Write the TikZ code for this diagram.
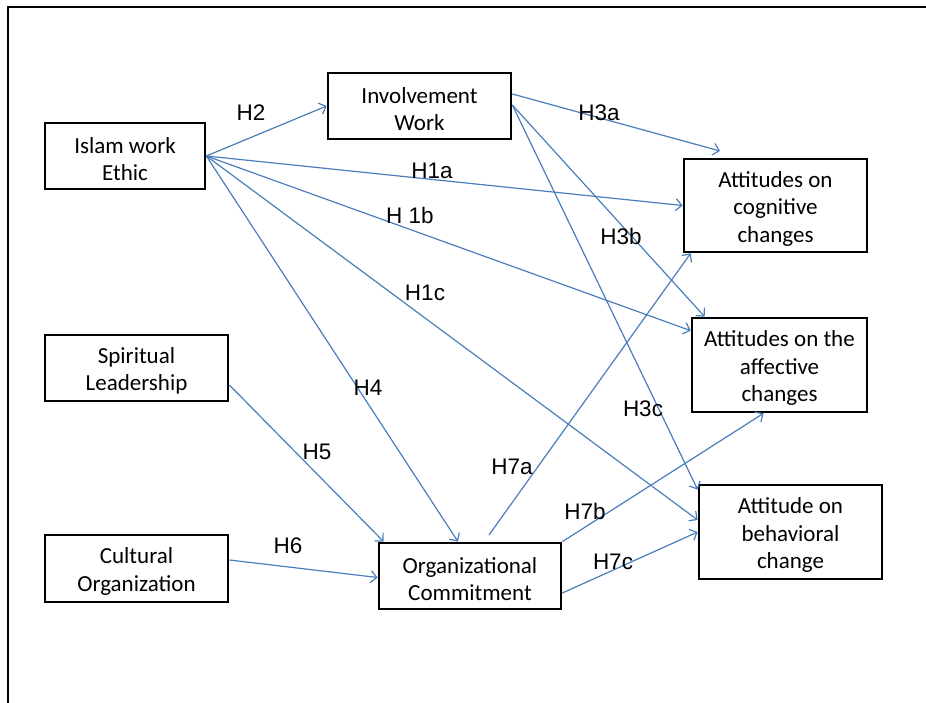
\documentclass[tikz,border=0pt]{standalone}
\usepackage{fontspec}
\setmainfont{Carlito}
\newfontfamily\labfont{Liberation Sans}
\usetikzlibrary{arrows.meta}
\definecolor{linkblue}{HTML}{4A7EBB}
\newcommand{\tstrut}{\rule{0pt}{22pt}}
\tikzset{
  box/.style={draw=black, line width=2.7pt, align=center, inner sep=0pt,
    font=\fontsize{23}{27.5}\selectfont},
  link/.style={draw=linkblue, line width=1.2pt,
    -{Straight Barb[length=6pt,width=12pt,line width=1.2pt]}},
  hlab/.style={font=\labfont\fontsize{22.5}{27}\selectfont, inner sep=0pt},
}
\begin{document}
\begin{tikzpicture}[x=1pt,y=-1pt]
\useasboundingbox (0,0) rectangle (926,703);
% frame
\draw[line width=2.8pt] (8,703) -- (8,7) -- (926,7);

% boxes
\node[box, minimum width=160pt, minimum height=66pt] (iwe) at (125,156) {\tstrut Islam work\\Ethic};
\node[box, minimum width=183pt, minimum height=66pt] (inv) at (419.5,106) {\tstrut Involvement\\Work};
\node[box, minimum width=183pt, minimum height=93pt] (cog) at (775.5,205.5) {\tstrut Attitudes on\\cognitive\\changes};
\node[box, minimum width=175pt, minimum height=94pt] (aff) at (779.5,365) {\tstrut Attitudes on the\\affective\\changes};
\node[box, minimum width=183pt, minimum height=94pt] (beh) at (790.5,532) {\tstrut Attitude on\\behavioral\\change};
\node[box, minimum width=183pt, minimum height=66pt] (sl) at (136.5,368) {\tstrut Spiritual\\Leadership};
\node[box, minimum width=183pt, minimum height=67pt] (co) at (136.5,568.5) {\tstrut Cultural\\Organization};
\node[box, minimum width=182pt, minimum height=66pt] (oc) at (470,576) {\tstrut Organizational\\Commitment};

% free ends
\coordinate (h3aend) at (720,151);
\coordinate (h7astart) at (489,535);

% connectors
\draw[link] (iwe.east) -- (inv.west);
\draw[link] (iwe.east) -- (cog.west);
\draw[link] (iwe.east) -- ([yshift=-14pt]aff.north west);
\draw[link] (iwe.east) -- ([yshift=12pt]beh.west);
\draw[link] (iwe.east) -- ([xshift=-12pt]oc.north);
\draw[link] ([yshift=12pt]inv.east) -- (h3aend);
\draw[link] ([yshift=1pt]inv.east) -- ([xshift=14pt]aff.north west);
\draw[link] ([yshift=1pt]inv.east) -- ([yshift=-6pt]beh.north west);
\draw[link] ([yshift=-17pt]sl.east) -- ([xshift=6pt]oc.north west);
\draw[link] ([yshift=8.5pt]co.east) -- ([yshift=-1.5pt]oc.west);
\draw[link] (h7astart) -- ([xshift=8pt]cog.south west);
\draw[link] (oc.north east) -- ([xshift=-16pt]aff.south);
\draw[link] ([yshift=-17pt]oc.east) -- (beh.west);

% labels
\node[hlab] (l2) at (251,113) {H2};
\node[hlab] (l3a) at (599,113) {H3a};
\node[hlab] (l1a) at (432,171) {H1a};
\node[hlab] (l1b) at (410,215) {H 1b};
\node[hlab] (l1c) at (425,293) {H1c};
\node[hlab] (l3b) at (621,236) {H3b};
\node[hlab] (l4) at (368,388) {H4};
\node[hlab] (l5) at (317,452) {H5};
\node[hlab] (l6) at (288,546) {H6};
\node[hlab] (l3c) at (643,409) {H3c};
\node[hlab] (l7a) at (512,467) {H7a};
\node[hlab] (l7b) at (585,511) {H7b};
\node[hlab] (l7c) at (613,562) {H7c};
\end{tikzpicture}
\end{document}
